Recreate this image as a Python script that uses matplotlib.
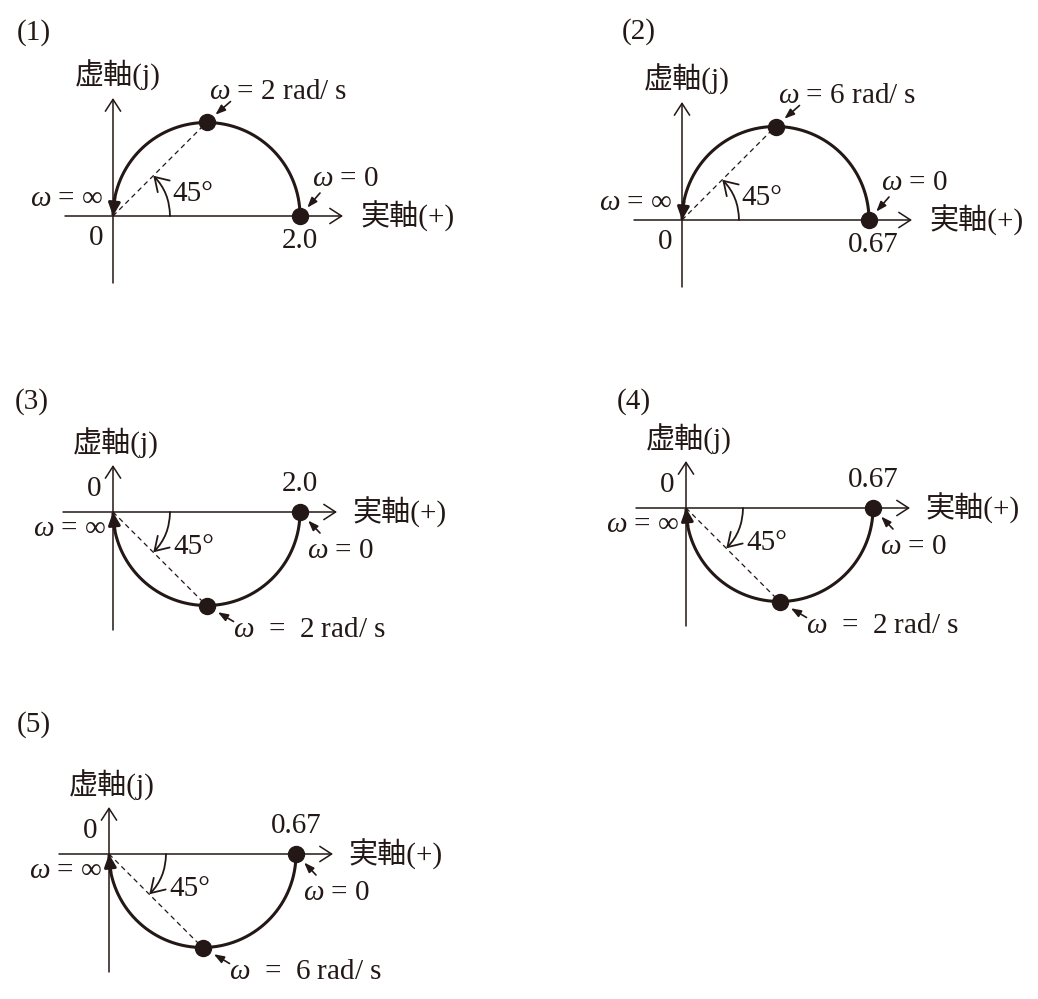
import numpy as np
import matplotlib
matplotlib.use("Agg")
import matplotlib.pyplot as plt
from matplotlib.patches import FancyArrowPatch

plt.rcParams['font.family'] = ['Liberation Serif', 'Noto Sans CJK JP', 'DejaVu Serif']
plt.rcParams['mathtext.fontset'] = 'custom'
plt.rcParams['mathtext.it'] = 'Liberation Serif:italic'
plt.rcParams['mathtext.rm'] = 'Liberation Serif'

# chart data
titles = ['(1)', '(2)', '(3)', '(4)', '(5)']
gains = [2.0, 0.67, 2.0, 0.67, 0.67]
gain_labels = ['2.0', '0.67', '2.0', '0.67', '0.67']
corner_freqs = [2, 6, 2, 2, 6]
upper = [True, True, False, False, False]   # locus drawn above the real axis
angle_label = '45°'
re_label = '実軸(+)'
im_label = '虚軸(j)'

# layout in pixels
W, H = 1038, 999
origins = [(113, 216), (682, 220), (113, 512), (686, 508), (109, 854)]
title_pos = [(17, 33), (622, 32), (15, 402), (617, 402), (17, 725)]
D = 187          # diameter of the semicircle, px
C = '#231815'
FS = 21

fig = plt.figure(figsize=(W / 100, H / 100), dpi=100)
fig.patch.set_facecolor('white')


def pointer(ax, xy, off, shrink):
    # short arrow that points at a marked dot
    ax.annotate('', xy=xy, xytext=off, textcoords='offset pixels',
                arrowprops=dict(arrowstyle='-|>,head_length=0.6,head_width=0.22',
                                mutation_scale=10, lw=1.2, color=C,
                                shrinkA=0, shrinkB=shrink))


for i in range(5):
    K = gains[i]
    wc = corner_freqs[i]
    up = upper[i]
    sg = 1 if up else -1
    ox, oy = origins[i]
    u = K / D

    ax = fig.add_axes([0, 0, 1, 1])
    ax.axis('off')
    ax.patch.set_alpha(0)
    ax.set_xlim(-ox * u, (W - ox) * u)
    ax.set_ylim(-(H - oy) * u, oy * u)

    fig.text(title_pos[i][0] / W, 1 - title_pos[i][1] / H, titles[i],
             fontsize=FS, color=C, ha='left', va='center')

    # axes
    axis_arrow = dict(arrowstyle='->,head_length=0.85,head_width=0.55',
                      mutation_scale=10, lw=1.1, color=C, shrinkA=0, shrinkB=0)
    if up:
        re_rng, im_rng = (-48, 230), (-67, 118)
    else:
        re_rng, im_rng = (-50, 224), (-118, 47)
    ax.annotate('', xy=(re_rng[1] * u, 0), xytext=(re_rng[0] * u, 0), arrowprops=axis_arrow)
    ax.annotate('', xy=(0, im_rng[1] * u), xytext=(0, im_rng[0] * u), arrowprops=axis_arrow)

    # locus G(jw) = K / (1 -/+ j w/wc)
    phi = np.linspace(0, np.pi / 2, 400)[:-1]
    w = wc * np.tan(phi)
    G = K / (1 - sg * 1j * w / wc)
    ax.plot(G.real, G.imag, color=C, lw=2.2, solid_capstyle='butt')
    # arrow at the w = inf end
    ax.add_patch(FancyArrowPatch((G.real[-25], G.imag[-25]), (0, 0),
                                 arrowstyle='-|>,head_length=0.75,head_width=0.35',
                                 mutation_scale=10, lw=2.2, color=C,
                                 shrinkA=0, shrinkB=0))

    # point at the corner frequency and at w = 0
    Gc = K / (1 - sg * 1j)
    ax.plot([0, Gc.real], [0, Gc.imag], color=C, lw=0.9, ls=(0, (4, 3)))
    ax.plot([Gc.real, K], [Gc.imag, 0], 'o', ms=11.5, color=C, ls='none')

    # 45 degree angle arc
    ra = 57 * u
    ang = np.deg2rad(45)
    ax.add_patch(FancyArrowPatch((ra, 0), (ra * np.cos(ang), sg * ra * np.sin(ang)),
                                 connectionstyle='arc3,rad=%.2f' % (0.2 * sg),
                                 arrowstyle='->,head_length=0.95,head_width=0.6',
                                 mutation_scale=10, lw=1.3, color=C,
                                 shrinkA=0, shrinkB=0))

    txt = dict(fontsize=FS, color=C, textcoords='offset pixels')

    if up:
        freq_text = r'$\omega$ = %d rad/ s' % wc
        pointer(ax, (Gc.real, Gc.imag), (24, 21), 8.5)
        pointer(ax, (K, 0), (20, 23), 8)
        ax.annotate(im_label, (0, 0), xytext=(-38, 141), ha='left', va='center', **txt)
        ax.annotate(re_label, (0, 0), xytext=(247, 0), ha='left', va='center', **txt)
        ax.annotate('0', (0, 0), xytext=(-17, -22), ha='center', va='center', **txt)
        ax.annotate(gain_labels[i], (K, 0), xytext=(4 if K < 1 else 0, -25),
                    ha='center', va='center', **txt)
        ax.annotate(r'$\omega$ = ∞', (0, 0), xytext=(-10, 17), ha='right', va='center', **txt)
        ax.annotate(angle_label, (0, 0), xytext=(59, 22), ha='left', va='center', **txt)
        ax.annotate(r'$\omega$ = 0', (0, 0), xytext=(199, 37), ha='left', va='center', **txt)
        ax.annotate(freq_text, (0, 0), xytext=(96, 124), ha='left', va='center', **txt)
    else:
        freq_text = r'$\omega$  =  %d rad/ s' % wc
        pointer(ax, (Gc.real, Gc.imag), (27, -16), 9.5)
        pointer(ax, (K, 0), (20, -21), 8.5)
        ax.annotate(im_label, (0, 0), xytext=(-40, 69), ha='left', va='center', **txt)
        ax.annotate(re_label, (0, 0), xytext=(239, 0), ha='left', va='center', **txt)
        ax.annotate('0', (0, 0), xytext=(-19, 23), ha='center', va='center', **txt)
        ax.annotate(gain_labels[i], (K, 0), xytext=(0, 28),
                    ha='center', va='center', **txt)
        ax.annotate(r'$\omega$ = ∞', (0, 0), xytext=(-7, -17), ha='right', va='center', **txt)
        ax.annotate(angle_label, (0, 0), xytext=(60, -35), ha='left', va='center', **txt)
        ax.annotate(r'$\omega$ = 0', (0, 0), xytext=(194, -39), ha='left', va='center', **txt)
        ax.annotate(freq_text, (0, 0), xytext=(120, -118), ha='left', va='center', **txt)

fig.savefig('out.png', dpi=100, facecolor='white')
